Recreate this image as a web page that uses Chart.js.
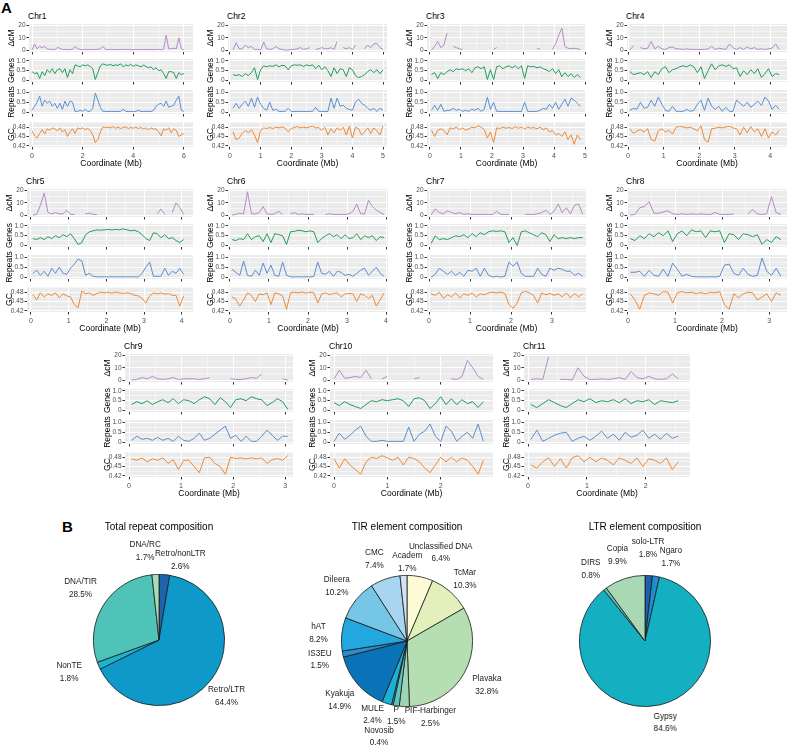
<!DOCTYPE html>
<html>
<head>
<meta charset="utf-8">
<script src="https://cdn.jsdelivr.net/npm/chart.js@4.4.1/dist/chart.umd.min.js"></script>
<style>
  body { margin: 0; width: 790px; height: 748px; position: relative; background: #fff; overflow: hidden;
         font-family: "Liberation Sans", Arial, Helvetica, sans-serif; }
  canvas { position: absolute; }
  .txt { position: absolute; white-space: nowrap; color: #000; }
  .lab { position: absolute; white-space: nowrap; color: #222; font-size: 8.2px; line-height: 12.7px;
         text-align: center; transform: translate(-50%, -50%); }
</style>
</head>
<body>
<div class="txt" style="left:1px;top:-1px;font-size:15px;font-weight:bold">A</div>
<div class="txt" style="left:62px;top:518px;font-size:15px;font-weight:bold">B</div>
<script>
// ---- window data (values per 100 kb window) ----
const chrNames = ['Chr1', 'Chr2', 'Chr3', 'Chr4', 'Chr5', 'Chr6', 'Chr7', 'Chr8', 'Chr9', 'Chr10', 'Chr11'];
const chrStart = [0.0, 0.1, 0.05, 0.05, 0.05, 0.05, 0.05, 0.05, 0.05, 0.0, 0.05]; // first window, Mb
const winStep = 0.1;

const dcm1 = [0,5,1,3,2,3,1,0.5,0.5,0.3,2,1.5,0.5,0.5,0.3,0.5,0.5,3,1,0.5,0.3,0.5,0.3,0.5,0.3,0.5,0.5,1,3,0.5,0.3,0.5,0.3,0.5,0.3,0.5,0.3,0.5,0.5,0.3,0.2,0.5,0.3,0.5,0.3,0.5,0.3,0.5,0.3,0.5,0.5,0.3,0.5,12,1,1,1.5,1,10,1,0];
const genes1 = [0.45,0.35,0.4,0.1,0.45,0.25,0.55,0.4,0.6,0.35,0.55,0.6,0.4,0.6,0.15,0.55,0.35,0.8,0.75,0.7,0.8,0.75,0.8,0.72,0.6,0.05,0.4,0.75,0.85,0.8,0.78,0.82,0.75,0.8,0.77,0.85,0.7,0.8,0.75,0.82,0.72,0.8,0.75,0.7,0.78,0.72,0.65,0.7,0.55,0.65,0.5,0.55,0.35,0.1,0.45,0.45,0.4,0.1,0.4,0.3,0.35];
const rep1 = [0.1,0.3,0.5,0.8,0.3,0.6,0.45,0.55,0.3,0.45,0.2,0.45,0.15,0.55,0.3,0.55,0.5,0.05,0.05,0.1,0.05,0.15,0.05,0.05,0.2,0.95,0.6,0.25,0.05,0.05,0.04,0.05,0.04,0.05,0.04,0.05,0.15,0.05,0.04,0.05,0.04,0.05,0.1,0.05,0.04,0.05,0.05,0.04,0.1,0.3,0.4,0.45,0.3,0.55,0.25,0.3,0.35,0.6,0.8,0.1,0.05];
const gc1 = [0.468,0.452,0.445,0.46,0.472,0.458,0.475,0.47,0.478,0.475,0.468,0.478,0.465,0.472,0.45,0.465,0.475,0.46,0.478,0.475,0.478,0.472,0.476,0.47,0.455,0.43,0.44,0.465,0.481,0.479,0.48,0.478,0.482,0.477,0.48,0.476,0.479,0.481,0.476,0.479,0.477,0.48,0.476,0.479,0.475,0.478,0.472,0.478,0.474,0.475,0.465,0.452,0.475,0.47,0.478,0.462,0.475,0.47,0.45,0.455,0.46];

const dcm2 = [0,6,1,1,4,2,3,0.5,0.5,0,6.5,1,0.5,1,3,1,0.5,0,0,0.5,0.5,1,2,0.5,1,2,null,0.5,1,2,1,1,2,0.5,7,null,2,1,2,0.5,4,null,null,1,4,2,5,5.5,2,0.5];
const genes2 = [0.3,0.25,0.3,0.2,0.35,0.25,0.4,0.65,0.05,0.55,0.75,0.7,0.75,0.72,0.8,0.7,0.78,0.75,0.55,0.75,0.8,0.78,0.8,0.72,0.8,0.75,0.8,0.6,0.78,0.55,0.7,0.5,0.2,0.65,0.35,0.6,0.55,0.2,0.65,0.55,0.25,0.15,0.2,0.3,0.45,0.55,0.4,0.55,0.35,0.55];
const rep2 = [0.2,0.45,0.2,0.4,0.55,0.3,0.7,0.25,0.75,0.4,0.2,0.1,0.5,0.1,0.15,0.05,0.05,0.05,0.2,0.05,0.04,0.05,0.04,0.05,0.04,0.05,0.05,0.25,0.05,0.05,0.04,0.05,0.7,0.2,0.7,0.3,0.35,0.2,0.15,0.1,0.5,0.65,0.45,0.35,0.2,0.1,0.2,0.05,0.2,0.1];
const gc2 = [0.465,0.44,0.445,0.46,0.47,0.462,0.472,0.455,0.43,0.47,0.478,0.476,0.479,0.476,0.48,0.478,0.481,0.477,0.465,0.476,0.479,0.482,0.478,0.48,0.478,0.481,0.483,0.478,0.479,0.47,0.48,0.455,0.475,0.462,0.478,0.47,0.48,0.455,0.483,0.445,0.48,0.475,0.455,0.465,0.478,0.46,0.478,0.468,0.455,0.485];

const dcm3 = [0,3,7,2,4,14,null,3,2,1,0.5,null,null,null,null,null,null,null,null,null,0.5,2,null,null,null,null,null,null,null,null,null,null,null,null,1.5,0.5,null,null,null,0.5,5,12,18,3,1.5,1,1.5,1,0.5];
const genes3 = [0.3,0.4,0.1,0.4,0.3,0.45,0.55,0.45,0.6,0.55,0.6,0.5,0.6,0.4,0.65,0.7,0.6,0.7,0.05,0.55,0.05,0.7,0.75,0.6,0.7,0.75,0.65,0.75,0.6,0.75,0.1,0.75,0.7,0.72,0.65,0.7,0.6,0.55,0.45,0.6,0.35,0.55,0.2,0.4,0.2,0.35,0.15,0.3,0.15];
const rep3 = [0.1,0.35,0.1,0.4,0.05,0.1,0.1,0.2,0.1,0.15,0.05,0.1,0.05,0.15,0.1,0.2,0.05,0.15,0.75,0.15,0.5,0.05,0.05,0.04,0.05,0.04,0.05,0.04,0.05,0.04,0.5,0.05,0.04,0.05,0.05,0.1,0.2,0.15,0.4,0.2,0.5,0.15,0.4,0.65,0.3,0.7,0.6,0.45,0.3];
const gc3 = [0.47,0.45,0.47,0.475,0.47,0.455,0.478,0.475,0.48,0.472,0.478,0.47,0.475,0.48,0.478,0.485,0.48,0.472,0.445,0.465,0.43,0.478,0.476,0.48,0.477,0.479,0.476,0.482,0.477,0.48,0.475,0.48,0.477,0.479,0.475,0.48,0.472,0.478,0.465,0.47,0.455,0.46,0.45,0.465,0.44,0.455,0.425,0.455,0.44];

const dcm4 = [0,3.5,null,2,1,1.5,7,1,3,1,0.5,2,2.5,1,1,0.5,1,0.5,0.5,0.5,0.5,0.5,1,3,0.5,1.5,1,0.5,5,2,0.5,2,0.5,2.5,1,2,0.5,1,0.5,1,1.5,5,0.5];
const genes4 = [0.45,0.3,0.35,0.4,0.3,0.45,0.15,0.45,0.3,0.6,0.7,0.4,0.55,0.6,0.7,0.75,0.7,0.8,0.7,0.4,0.7,0.1,0.5,0.85,0.55,0.75,0.8,0.72,0.8,0.6,0.65,0.2,0.5,0.3,0.55,0.35,0.6,0.15,0.35,0.6,0.2,0.35,0.3];
const rep4 = [0.1,0.2,0.15,0.5,0.2,0.25,0.6,0.3,0.75,0.4,0.1,0.05,0.3,0.05,0.05,0.05,0.15,0.05,0.1,0.4,0.6,0.1,0.7,0.3,0.15,0.3,0.05,0.25,0.05,0.05,0.6,0.45,0.3,0.5,0.25,0.4,0.55,0.35,0.75,0.55,0.15,0.35,0.15];
const gc4 = [0.475,0.46,0.468,0.472,0.465,0.475,0.44,0.435,0.468,0.475,0.465,0.47,0.458,0.48,0.482,0.481,0.478,0.48,0.475,0.468,0.485,0.44,0.432,0.475,0.477,0.48,0.478,0.481,0.483,0.478,0.475,0.455,0.48,0.462,0.482,0.465,0.475,0.45,0.475,0.445,0.465,0.455,0.47];

const dcm5 = [0,0.5,8,18,2,1,2,1,1,4,0.5,0.5,null,null,1,1.5,0.5,0.5,null,null,null,null,null,null,null,null,null,null,null,null,null,null,null,1,5,0.5,null,2,10,6,0.5];
const genes5 = [0.35,0.3,0.4,0.3,0.45,0.35,0.5,0.4,0.55,0.45,0.6,0.35,0.05,0.15,0.55,0.7,0.75,0.8,0.78,0.8,0.82,0.8,0.82,0.8,0.85,0.8,0.75,0.78,0.7,0.55,0.35,0.25,0.65,0.6,0.4,0.55,0.35,0.4,0.25,0.15,0.3];
const rep5 = [0.2,0.35,0.1,0.3,0.05,0.45,0.2,0.5,0.2,0.15,0.45,0.65,0.9,0.8,0.1,0.2,0.05,0.03,0.02,0.03,0.02,0.03,0.02,0.03,0.02,0.03,0.02,0.03,0.02,0.2,0.5,0.75,0.05,0.05,0.05,0.45,0.1,0.3,0.2,0.45,0.15];
const gc5 = [0.472,0.455,0.478,0.465,0.475,0.47,0.478,0.462,0.475,0.468,0.465,0.44,0.43,0.484,0.475,0.478,0.47,0.476,0.48,0.478,0.48,0.477,0.481,0.478,0.476,0.478,0.476,0.47,0.468,0.46,0.445,0.468,0.478,0.475,0.478,0.474,0.476,0.47,0.47,0.435,0.468];

const dcm6 = [0,0.5,1.5,1,19,1,1,2,7,1,0.5,1,3,0.5,null,1,2,0.5,1,0.5,0.5,0.5,null,null,0.5,1,0.5,0.5,0.5,0.5,1,3,9,1,1,12,7,4,2,0.5];
const genes6 = [0.3,0.25,0.35,0.3,0.6,0.3,0.45,0.5,0.2,0.6,0.15,0.6,0.55,0.5,0.05,0.7,0.72,0.78,0.75,0.7,0.75,0.7,0.15,0.35,0.5,0.6,0.45,0.55,0.35,0.55,0.35,0.4,0.6,0.3,0.5,0.4,0.5,0.25,0.45,0.4];
const rep6 = [0.4,0.25,0.1,0.8,0.1,0.05,0.35,0.1,0.7,0.2,0.6,0.1,0.05,0.75,0.1,0.03,0.02,0.03,0.02,0.03,0.02,0.05,0.75,0.2,0.15,0.3,0.05,0.3,0.25,0.1,0.15,0.05,0.2,0.35,0.45,0.1,0.3,0.5,0.2,0.05];
const gc6 = [0.465,0.458,0.435,0.455,0.478,0.47,0.45,0.475,0.472,0.478,0.44,0.478,0.475,0.468,0.425,0.478,0.48,0.478,0.481,0.477,0.48,0.478,0.445,0.475,0.478,0.472,0.476,0.478,0.465,0.475,0.476,0.475,0.45,0.475,0.47,0.46,0.47,0.435,0.455,0.478];

const dcm7 = [0,5,2,1,3.5,2,1,2,0.5,1,0.5,0.5,0.5,0.5,0.5,0.5,3,0.5,0.5,0.5,null,null,null,0.5,0.5,0.5,1,2,4,0.5,3,9,2,6,1,8,9,0.5];
const genes7 = [0.1,0.5,0.3,0.35,0.3,0.4,0.5,0.45,0.55,0.4,0.6,0.45,0.65,0.55,0.7,0.75,0.72,0.75,0.7,0.15,0.4,0.0,0.7,0.75,0.65,0.55,0.45,0.65,0.55,0.2,0.55,0.35,0.4,0.35,0.4,0.35,0.4,0.4];
const rep7 = [0.0,0.15,0.45,0.3,0.15,0.3,0.1,0.25,0.05,0.35,0.3,0.45,0.05,0.45,0.1,0.02,0.05,0.02,0.05,0.75,0.55,0.75,0.2,0.05,0.05,0.05,0.45,0.15,0.05,0.45,0.35,0.45,0.4,0.3,0.3,0.1,0.2,0.05];
const gc7 = [0.475,0.47,0.48,0.46,0.472,0.465,0.478,0.462,0.475,0.47,0.478,0.465,0.475,0.472,0.478,0.48,0.478,0.48,0.476,0.44,0.428,0.445,0.478,0.483,0.478,0.47,0.445,0.478,0.472,0.476,0.47,0.475,0.465,0.478,0.462,0.476,0.465,0.475];

const dcm8 = [0,0.5,6,7,11,1.5,1.5,2.5,3.5,1,0.5,1,0.5,1,0.5,1,0.5,0.5,2,0.5,0.5,0.5,1,null,null,1,4.5,1,0.5,1,15,2,0.5];
const genes8 = [0.35,0.25,0.5,0.35,0.6,0.45,0.65,0.5,0.75,0.2,0.6,0.75,0.5,0.8,0.7,0.75,0.4,0.75,0.7,0.75,0.15,0.6,0.55,0.3,0.6,0.55,0.45,0.55,0.05,0.3,0.15,0.45,0.3];
const rep8 = [0.25,0.25,0.3,0.05,0.35,0.1,0.05,0.4,0.05,0.7,0.4,0.05,0.15,0.05,0.02,0.03,0.02,0.03,0.02,0.05,0.6,0.65,0.2,0.1,0.45,0.15,0.05,0.1,0.95,0.3,0.1,0.45,0.05];
const gc8 = [0.475,0.455,0.425,0.47,0.478,0.475,0.47,0.482,0.48,0.445,0.478,0.482,0.478,0.48,0.476,0.479,0.475,0.48,0.478,0.482,0.44,0.425,0.475,0.462,0.475,0.48,0.478,0.455,0.465,0.475,0.45,0.478,0.47];

const dcm9 = [0,0.5,2,1,3,1,0.5,1,2,0.5,1,1,1,0.5,1,2,null,null,null,1,0.5,0.5,1,2,1.5,5,null,null,null,1,0];
const genes9 = [0.3,0.45,0.35,0.5,0.3,0.45,0.55,0.4,0.6,0.35,0.55,0.5,0.35,0.55,0.7,0.6,0.3,0.65,0.45,0.15,0.55,0.6,0.5,0.7,0.6,0.55,0.25,0.4,0.6,0.45,0.05];
const rep9 = [0.1,0.3,0.15,0.2,0.1,0.25,0.1,0.2,0.05,0.3,0.1,0.05,0.2,0.45,0.1,0.2,0.4,0.6,0.8,0.2,0.35,0.05,0.3,0.05,0.05,0.3,0.6,0.35,0.1,0.3,0.3];
const gc9 = [0.475,0.47,0.478,0.465,0.475,0.47,0.478,0.46,0.472,0.44,0.47,0.47,0.45,0.43,0.478,0.48,0.46,0.45,0.425,0.48,0.476,0.478,0.475,0.478,0.475,0.478,0.46,0.472,0.476,0.47,0.485];

const dcm10 = [1,8,1.5,2,3,2,8,1,null,1,3,null,null,null,null,1,2,null,null,null,null,null,1,0.5,3,16,10,3,0.5];
const genes10 = [0.4,0.25,0.45,0.3,0.2,0.1,0.3,0.5,0.45,0.55,0.5,0.55,0.6,0.5,0.2,0.6,0.65,0.5,0.1,0.35,0.7,0.3,0.6,0.3,0.55,0.35,0.45,0.15,0.45];
const rep10 = [0.05,0.45,0.15,0.35,0.6,0.8,0.3,0.05,0.05,0.1,0.05,0.05,0.05,0.05,0.75,0.05,0.4,0.55,0.9,0.3,0.05,0.8,0.55,0.05,0.3,0.5,0.2,0.9,0.05];
const gc10 = [0.475,0.445,0.475,0.455,0.44,0.425,0.465,0.48,0.476,0.485,0.478,0.47,0.48,0.455,0.48,0.476,0.465,0.445,0.43,0.455,0.48,0.465,0.48,0.465,0.478,0.47,0.45,0.425,0.47];

const dcm11 = [0.5,1,0.5,19,null,0.5,0.5,0,10,3,0.5,0.5,1,0.5,1,2,0.5,7,2,1,3,1,0.5,1,5,1];
const genes11 = [0.3,0.15,0.35,0.55,0.4,0.25,0.15,0.35,0.55,0.45,0.6,0.4,0.5,0.45,0.55,0.4,0.6,0.35,0.5,0.45,0.55,0.3,0.5,0.45,0.4,0.5];
const rep11 = [0.15,0.6,0.05,0.2,0.35,0.45,0.5,0.05,0.2,0.3,0.1,0.3,0.55,0.2,0.4,0.1,0.5,0.25,0.35,0.6,0.2,0.4,0.15,0.45,0.2,0.3];
const gc11 = [0.455,0.445,0.465,0.478,0.45,0.475,0.445,0.478,0.485,0.465,0.48,0.465,0.478,0.47,0.455,0.478,0.47,0.46,0.478,0.45,0.475,0.47,0.46,0.478,0.44,0.465];

// axis ticks
const dcmTicks = [0, 10, 20], dcmTickLabels = ['0', '10', '20'];
const fracTicks = [0, 0.5, 1], fracTickLabels = ['0', '0.5', '1.0'];
const gcTicks = [0.42, 0.45, 0.48], gcTickLabels = ['0.42', '0.45', '0.48'];
const xTickStep = [2, 1, 1, 1, 1, 1, 1, 1, 1, 1, 1];

// pie data (percent)
const repeatLabels = ['Retro/nonLTR', 'Retro/LTR', 'NonTE', 'DNA/TIR', 'DNA/RC'];
const repeatPct = [2.6, 64.4, 1.8, 28.5, 1.7];
const tirLabels = ['Unclassified DNA', 'TcMar', 'Plavaka', 'PIF-Harbinger', 'P', 'Novosib', 'MULE', 'Kyakuja', 'IS3EU', 'hAT', 'Dileera', 'CMC', 'Academ'];
const tirPct = [6.4, 10.3, 32.8, 2.5, 1.5, 0.4, 2.4, 14.9, 1.5, 8.2, 10.2, 7.4, 1.7];
const ltrLabels = ['solo-LTR', 'Ngaro', 'Gypsy', 'DIRS', 'Copia'];
const ltrPct = [1.8, 1.7, 84.6, 0.8, 9.9];

// ---- layout & style ----
const chrSeries = [
  [dcm1, genes1, rep1, gc1], [dcm2, genes2, rep2, gc2], [dcm3, genes3, rep3, gc3], [dcm4, genes4, rep4, gc4],
  [dcm5, genes5, rep5, gc5], [dcm6, genes6, rep6, gc6], [dcm7, genes7, rep7, gc7], [dcm8, genes8, rep8, gc8],
  [dcm9, genes9, rep9, gc9], [dcm10, genes10, rep10, gc10], [dcm11, genes11, rep11, gc11]
];
const panelBox = [
  { left: 29, width: 164, top: 24, xmin: -0.12, xmax: 6.36 },
  { left: 228, width: 159, top: 24, xmin: -0.065, xmax: 5.13 },
  { left: 427, width: 159, top: 24, xmin: -0.096, xmax: 5.03 },
  { left: 627, width: 160, top: 24, xmin: -0.03, xmax: 4.47 },
  { left: 27, width: 166, top: 189, xmin: -0.106, xmax: 4.30 },
  { left: 228, width: 160, top: 189, xmin: -0.05, xmax: 4.05 },
  { left: 427, width: 159, top: 189, xmin: -0.05, xmax: 3.83 },
  { left: 627, width: 160, top: 189, xmin: -0.02, xmax: 3.38 },
  { left: 125, width: 168, top: 354, xmin: -0.077, xmax: 3.15 },
  { left: 330, width: 163, top: 354, xmin: -0.075, xmax: 2.98 },
  { left: 524, width: 166, top: 354, xmin: -0.068, xmax: 2.75 }
];
const trackSpec = [
  { off: 0, h: 28, min: -1.6, max: 21.3, major: dcmTicks, labels: dcmTickLabels, title: 'ΔcM', color: '#b38bc9' },
  { off: 35, h: 23, min: -0.08, max: 1.1, major: fracTicks, labels: fracTickLabels, title: 'Genes', color: '#1f9e59' },
  { off: 66, h: 24, min: -0.08, max: 1.1, major: fracTicks, labels: fracTickLabels, title: 'Repeats', color: '#5a8fd0' },
  { off: 98, h: 25, min: 0.416, max: 0.497, major: gcTicks, labels: gcTickLabels, title: 'GC', color: '#ee8a33' }
];

Chart.defaults.font.family = '"Liberation Sans", Arial, Helvetica, sans-serif';
Chart.defaults.animation = false;
Chart.defaults.responsive = false;
Chart.defaults.plugins.legend.display = false;
Chart.defaults.plugins.tooltip.enabled = false;

const panelBg = {
  id: 'panelBg',
  beforeDraw(chart) {
    const a = chart.chartArea, ctx = chart.ctx;
    ctx.save();
    ctx.fillStyle = '#ebebeb';
    ctx.fillRect(a.left, a.top, a.right - a.left, a.bottom - a.top);
    ctx.restore();
  }
};

// major breaks plus ggplot-like minor breaks half way between (and beyond, within limits)
function buildTicks(major, lo, hi) {
  const step = major[1] - major[0];
  const t = [];
  const first = major[0] - step / 2;
  if (first >= lo) t.push({ value: first, minor: true });
  major.forEach((v, i) => {
    t.push({ value: v, minor: false });
    const m = i < major.length - 1 ? (v + major[i + 1]) / 2 : v + step / 2;
    t.push({ value: +m.toFixed(4), minor: true });
  });
  return t.filter(x => x.value >= lo && x.value <= hi);
}

const gridOpts = {
  color: '#ffffff',
  lineWidth: c => (c.tick && c.tick.minor ? 0.5 : 1),
  tickColor: c => (c.tick && c.tick.minor ? 'rgba(0,0,0,0)' : '#333333'),
  tickLength: 2.5
};

function drawTrack(p, k) {
  const box = panelBox[p], spec = trackSpec[k], vals = chrSeries[p][k];
  const isBottom = k === 3;
  const YW = 22, PT = 10, PR = 6, XH = isBottom ? 22 : 10;
  const cv = document.createElement('canvas');
  cv.width = YW + box.width + PR;
  cv.height = PT + spec.h + XH;
  cv.style.left = (box.left - YW) + 'px';
  cv.style.top = (box.top + spec.off - PT) + 'px';
  document.body.appendChild(cv);

  const pts = vals.map((v, i) => ({ x: +(chrStart[p] + i * winStep).toFixed(3), y: v }));
  const xMajor = [];
  for (let v = 0; v <= box.xmax + 1e-9; v += xTickStep[p]) xMajor.push(v);
  const xt = buildTicks(xMajor, box.xmin, box.xmax);
  const yt = buildTicks(spec.major, spec.min, spec.max);

  new Chart(cv, {
    type: 'line',
    data: { datasets: [{ data: pts, borderColor: spec.color, borderWidth: 1, pointRadius: 0, spanGaps: false, tension: 0 }] },
    options: {
      layout: { padding: { top: PT, right: PR, left: 0, bottom: 0 } },
      scales: {
        x: {
          type: 'linear', min: box.xmin, max: box.xmax,
          afterBuildTicks: s => { s.ticks = xt.map(t => ({ ...t })); },
          afterFit: s => { s.height = XH; },
          border: { display: false },
          grid: gridOpts,
          ticks: {
            display: isBottom, autoSkip: false, maxRotation: 0, padding: 2, color: '#4d4d4d', font: { size: 7 },
            callback: (v, i, arr) => (arr[i].minor ? '' : String(v))
          },
          title: { display: isBottom, text: 'Coordinate (Mb)', color: '#000', font: { size: 8.5 }, padding: { top: 0, bottom: 0 } }
        },
        y: {
          min: spec.min, max: spec.max,
          afterBuildTicks: s => { s.ticks = yt.map(t => ({ ...t })); },
          afterFit: s => { s.width = YW; },
          border: { display: false },
          grid: gridOpts,
          ticks: {
            autoSkip: false, padding: 1, color: '#4d4d4d', font: { size: 6.5 },
            callback: (v, i, arr) => (arr[i].minor ? '' : spec.labels[spec.major.indexOf(v)])
          },
          title: { display: true, text: spec.title, color: '#000', font: { size: 8.5 }, padding: 0 }
        }
      }
    },
    plugins: [panelBg]
  });
}

chrNames.forEach((name, p) => {
  const box = panelBox[p];
  const t = document.createElement('div');
  t.className = 'txt';
  t.style.cssText = `left:${box.left - 1}px;top:${box.top - 13}px;font-size:8.5px;line-height:10px`;
  t.textContent = name;
  document.body.appendChild(t);
  for (let k = 0; k < 4; k++) drawTrack(p, k);
});

// ---- pies ----
const pies = [
  { title: 'Total repeat composition', labels: repeatLabels, values: repeatPct, cx: 159, cy: 640,
    colors: ['#1f62ad', '#0f99c9', '#1cb3cf', '#4fc3b8', '#a9dbb5'],
    nudge: [[14, 10], [-4, 4], [-8, -2], [-3, -4], [-9, 1]] },
  { title: 'TIR element composition', labels: tirLabels, values: tirPct, cx: 407, cy: 641,
    colors: ['#fcfbd6', '#e3f0bb', '#b5deb3', '#9dd4b5', '#5fc4ba', '#2db5c6', '#1cb0d8', '#0a73b8', '#2a8dd0', '#22a8df', '#76c7e6', '#a8d5ef', '#cfe5f5'],
    nudge: [[16, 0], [-1, 6], [2, 2], [27, -12], [4, -12], [-8, 10], [-7, -10], [0, 2], [0, 2], [0, 2], [-1, 2], [-3, 3], [5, 11]] },
  { title: 'LTR element composition', labels: ltrLabels, values: ltrPct, cx: 645, cy: 641,
    colors: ['#1e60ae', '#1c8fd2', '#15afc2', '#58c3b5', '#a9d9b4'],
    nudge: [[-2, -3], [11, 5], [0, -4], [0, 0], [0, 0]] }
];

pies.forEach(pc => {
  const S = 132;
  const cv = document.createElement('canvas');
  cv.width = S; cv.height = S;
  cv.style.left = (pc.cx - S / 2) + 'px';
  cv.style.top = (pc.cy - S / 2) + 'px';
  document.body.appendChild(cv);
  const chart = new Chart(cv, {
    type: 'pie',
    data: { labels: pc.labels, datasets: [{ data: pc.values, backgroundColor: pc.colors, borderColor: '#1a1a1a', borderWidth: 0.8 }] },
    options: { layout: { padding: 0 } }
  });

  const tt = document.createElement('div');
  tt.className = 'txt';
  tt.style.cssText = `left:${pc.cx}px;top:${521}px;font-size:10px;line-height:12px;transform:translateX(-50%)`;
  tt.textContent = pc.title;
  document.body.appendChild(tt);

  const R = 89;
  chart.getDatasetMeta(0).data.forEach((arc, i) => {
    const mid = (arc.startAngle + arc.endAngle) / 2;
    const x = pc.cx - S / 2 + arc.x + R * Math.cos(mid) + pc.nudge[i][0];
    const y = pc.cy - S / 2 + arc.y + R * Math.sin(mid) + pc.nudge[i][1];
    const d = document.createElement('div');
    d.className = 'lab';
    d.style.left = x + 'px';
    d.style.top = y + 'px';
    d.innerHTML = pc.labels[i] + '<br>' + pc.values[i].toFixed(1) + '%';
    document.body.appendChild(d);
  });
});
</script>
</body>
</html>
